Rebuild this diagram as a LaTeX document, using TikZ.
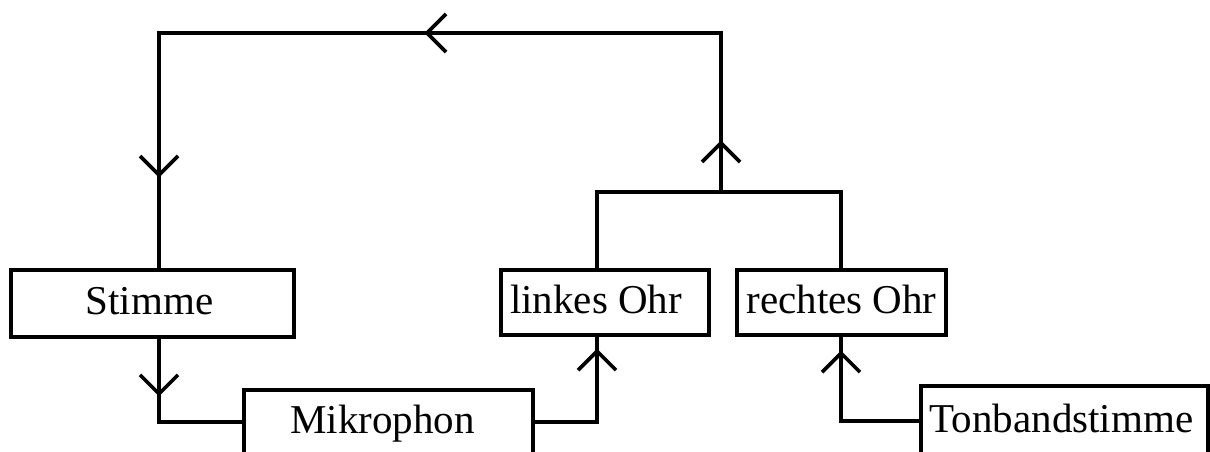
\documentclass[tikz,border=0pt]{standalone}
\usepackage{fontspec}
\setmainfont{Liberation Serif}
\usetikzlibrary{decorations.markings}
\begin{document}
\begin{tikzpicture}[x=1pt,y=-1pt,line width=3.6pt,
  box/.style={draw,rectangle,inner sep=0pt,text height=30pt,text depth=8pt,
    font=\fontsize{41}{49}\selectfont},
  barb/.style={postaction={decorate,decoration={markings,
    mark=at position #1 with {\draw[line width=3.6pt] (-19pt,-19pt) -- (0pt,0pt) -- (-19pt,19pt);}}}}]
\useasboundingbox (0,0) rectangle (1210,452);
\clip (0,0) rectangle (1210,452);
\node[box,minimum width=283pt,minimum height=67pt] (stimme) at (152.5,303.5) {Stimme\hspace*{6pt}};
\node[box,minimum width=289pt,minimum height=64pt] (mikro) at (388.5,422) {Mikrophon\hspace*{12pt}};
\node[box,minimum width=208pt,minimum height=65pt] (links) at (605,302.5) {linkes Ohr\hspace*{18pt}};
\node[box,minimum width=209pt,minimum height=65pt] (rechts) at (841.5,302.5) {rechtes Ohr};
\node[box,minimum width=287pt,minimum height=70pt] (tonband) at (1064.5,421) {Tonbandstimme\hspace*{6pt}};
\coordinate (join) at (721,192);
\coordinate (tr) at (721,33);
\coordinate (tl) at (159,33);
% ears to the join
\draw (links.north -| 597,0) |- (join) -| (rechts.north -| 841,0);
% feedback loop back to the voice
\draw[barb=49pt,barb=453pt,barb=863pt] (join) -- (tr) -- (tl) -- (stimme.north -| tl);
% voice to microphone
\draw[barb=55pt] (stimme.south -| tl) |- (mikro.west);
% microphone to left ear
\draw[barb=133pt] (mikro.east) -| (links.south -| 597,0);
% tape voice to right ear
\draw[barb=146pt] (tonband.west) -| (rechts.south -| 841,0);
\end{tikzpicture}
\end{document}
